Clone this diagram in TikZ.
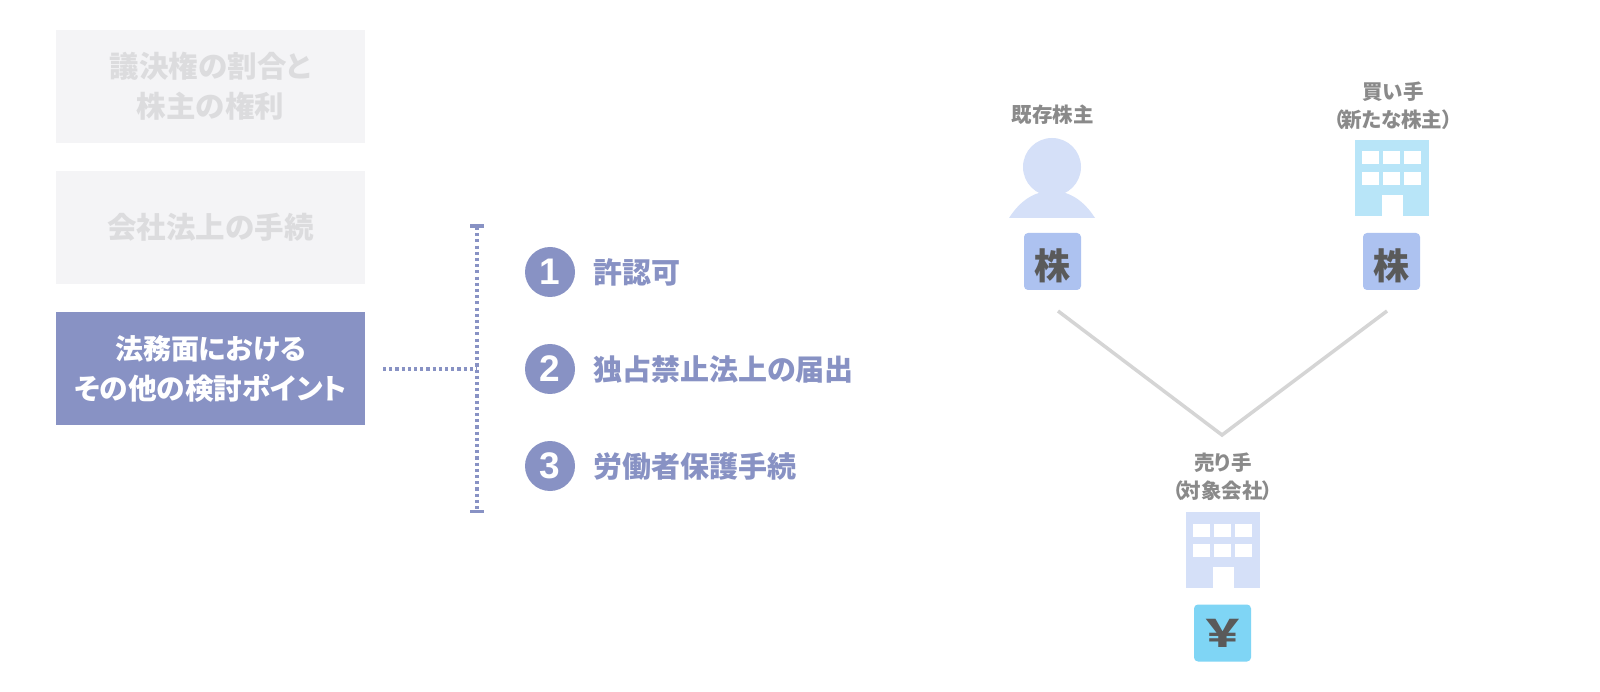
\documentclass[tikz,border=0pt]{standalone}
\usepackage{fontspec}
\setmainfont{Noto Sans CJK JP}[RawFeature={+palt}]
\newfontfamily\digitfont{Liberation Sans}
\newfontfamily\tokenfont{Noto Sans CJK JP}
\definecolor{mainblue}{HTML}{8892C4}
\definecolor{palebox}{HTML}{F4F4F6}
\definecolor{paletext}{HTML}{DCDCDE}
\definecolor{personblue}{HTML}{D5E0F8}
\definecolor{sharebox}{HTML}{ADC2F0}
\definecolor{buyercyan}{HTML}{B8E5F8}
\definecolor{yenbox}{HTML}{7FD5F5}
\definecolor{labelgrey}{HTML}{8A8A8A}
\definecolor{inkgrey}{HTML}{5A5A5A}
\definecolor{linkgrey}{HTML}{D5D5D5}
\tikzset{
  x=1pt,y=-1pt,
  menubox/.style={minimum width=309pt,minimum height=113pt,inner sep=0pt,outer sep=0pt,align=center},
  menuoff/.style={menubox,fill=palebox,text=paletext,font=\fontsize{29.5}{40}\selectfont\bfseries},
  menuon/.style={menubox,fill=mainblue,text=white,font=\fontsize{28.7}{40}\selectfont\bfseries},
  dotline/.style={mainblue,line width=3.2pt,dash pattern=on 3.1pt off 3.1pt},
  capline/.style={mainblue,line width=3.2pt},
  numdisc/.style={circle,fill=mainblue,text=white,minimum size=50pt,inner sep=0pt,
    font=\fontsize{37}{37}\selectfont\digitfont\bfseries},
  itemtext/.style={anchor=west,inner sep=0pt,text=mainblue,font=\fontsize{29}{34}\selectfont\bfseries},
  partylabel/.style={inner sep=0pt,align=center,text=labelgrey,font=\fontsize{20.5}{28}\selectfont\bfseries},
  tokenbox/.style={rounded corners=4pt,minimum width=57pt,minimum height=57pt,inner sep=0pt,text=inkgrey,
    font=\fontsize{36}{36}\selectfont\tokenfont\bfseries},
  sharetoken/.style={tokenbox,fill=sharebox,text height=40pt,text depth=4.6pt},
  linkline/.style={linkgrey,line width=3.5pt,line join=miter},
}
% building: #1 colour, (#2,#3) top-left corner
\newcommand{\officeblock}[3]{%
  \fill[#1] (#2,#3) rectangle ++(74,76);
  \foreach \wx in {7,28,49}\foreach \wy in {11.5,32}
    \fill[white] (#2+\wx,#3+\wy) rectangle ++(17,13);
  \fill[white] (#2+27,#3+55) rectangle ++(20.5,21);
}
\begin{document}
\begin{tikzpicture}
\useasboundingbox (0,0) rectangle (1600,692);
\fill[white] (0,0) rectangle (1600,692);

% left menu
\node[menuoff] (m1) at (210.5,86.5) {議決権の割合と\\株主の権利};
\node[menuoff] (m2) at (210.5,227.5) {会社法上の手続};
\node[menuon]  (m3) at (210.5,368.5) {{\fontsize{28}{40}\selectfont 法務面における}\\その他の検討ポイント};

% bracket
\coordinate (bT) at (477,227);
\coordinate (bB) at (477,512);
\coordinate (bM) at (477,369);
\coordinate (bS) at (383,369);
\draw[dotline] (bT) -- (bB);
\draw[dotline] (bS) -- (bM);
\draw[capline] (470,226) -- (484,226);
\draw[capline] (470,511.5) -- (484,511.5);

% items
\node[numdisc] (n1) at (550,272) {1};
\node[numdisc] (n2) at (550,369) {2};
\node[numdisc] (n3) at (550,466) {3};
\node[itemtext] (t1) at (593,272) {許認可};
\node[itemtext] (t2) at (593,369) {独占禁止法上の届出};
\node[itemtext] (t3) at (593,466) {労働者保護手続};

% existing shareholder
\node[partylabel] (l1) at (1052.5,114.5) {既存株主};
\fill[personblue] (1052,167) circle (29);
\fill[personblue] (1009,218) .. controls (1020,201) and (1034,191) .. (1052,191)
   .. controls (1070,191) and (1084,201) .. (1095,218) -- cycle;
\node[sharetoken] (s1) at (1052.5,261.5) {株};

% buyer
\node[partylabel] (l2) at (1393,105.5) {買い手\\（\kern-2.5pt 新たな株主）};
\officeblock{buyercyan}{1355}{140}
\node[sharetoken] (s2) at (1391.5,261.5) {株};

% links
\coordinate (vL) at (1058,311);
\coordinate (vR) at (1387,311);
\coordinate (vB) at (1222,435);
\draw[linkline] (vL) -- (vB) -- (vR);

% seller
\node[partylabel] (l3) at (1223,476.5) {売り手\\（\kern-2.5pt 対象会社）};
\officeblock{personblue}{1186}{512}
\node[tokenbox,fill=yenbox] (y1) at (1222.5,633) {\raisebox{-3pt}{\scalebox{1.3}[1.05]{￥}}};
\end{tikzpicture}
\end{document}
